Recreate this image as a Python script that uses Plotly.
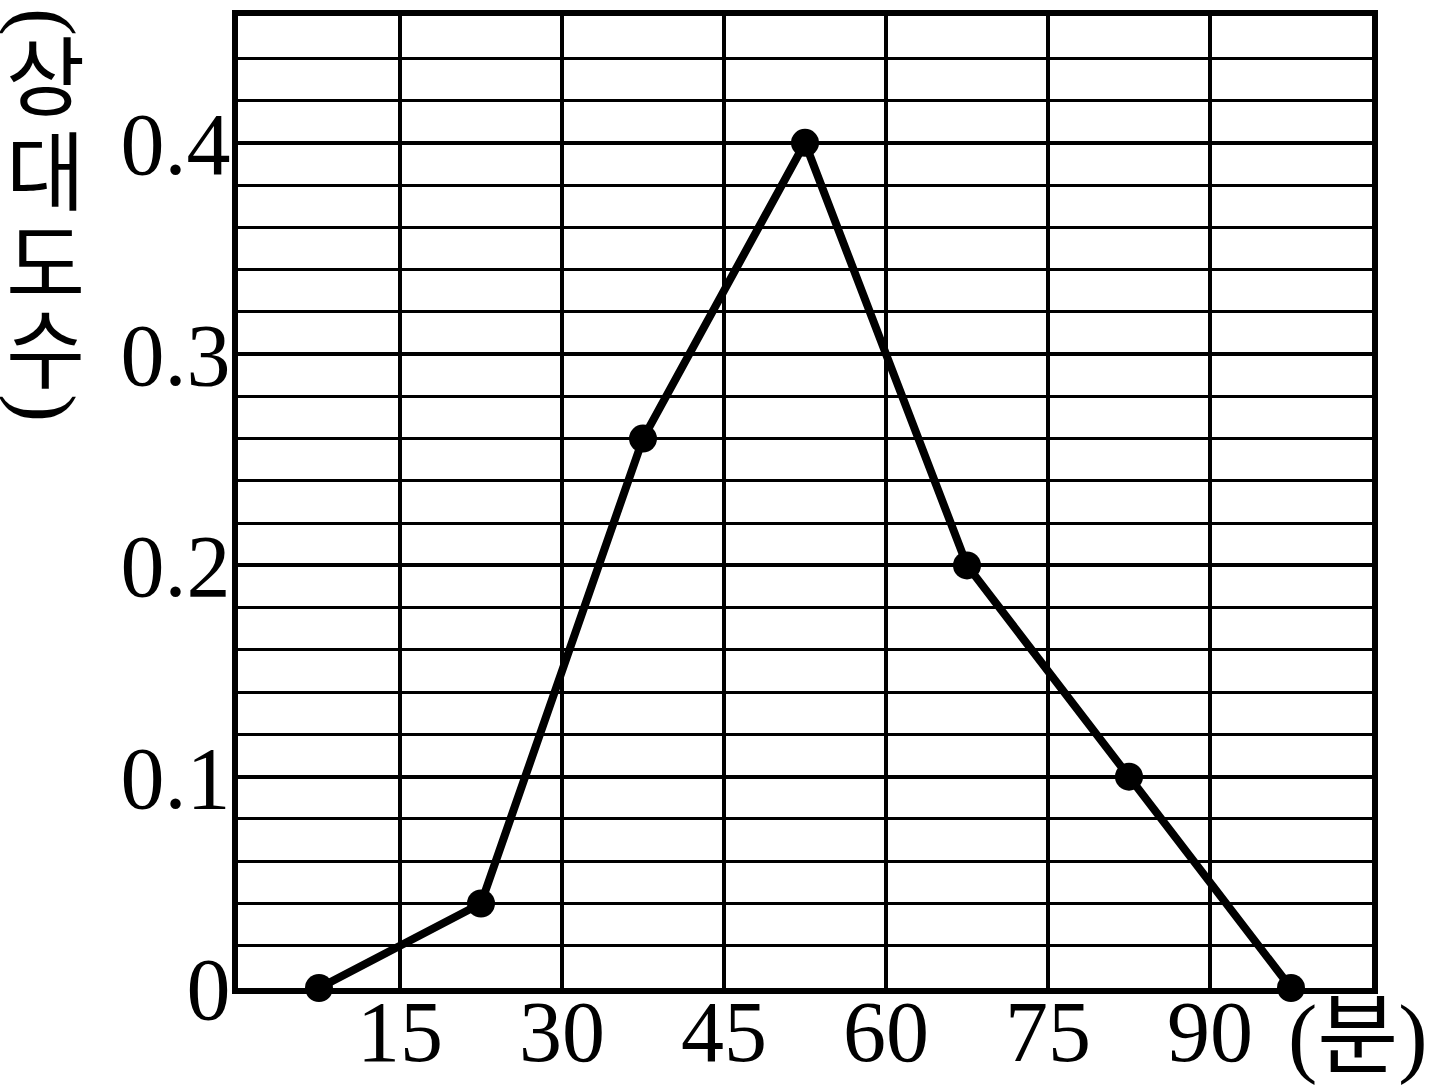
import plotly.graph_objects as go

# Data
class_mid = [7.5, 22.5, 37.5, 52.5, 67.5, 82.5, 97.5]   # minutes (class midpoints)
rel_freq = [0.0, 0.04, 0.26, 0.40, 0.20, 0.10, 0.0]
x_ticks = [15, 30, 45, 60, 75, 90]
y_ticks = [0, 0.1, 0.2, 0.3, 0.4]
y_tick_text = ["0", "0.1", "0.2", "0.3", "0.4"]
y_title_chars = ["(", "상", "대", "도", "수", ")"]
x_unit = "(분)"

W, H = 1443, 1091
L, R, T, B = 238, 71, 16, 103
pw, ph = W - L - R, H - T - B

def px_x(px):  # viewport pixel -> paper
    return (px - L) / pw

def px_y(py):
    return (H - B - py) / ph

serif = "Liberation Serif, 'Noto Sans CJK KR', serif"

fig = go.Figure()
fig.add_trace(go.Scatter(
    x=class_mid, y=rel_freq, mode="lines+markers",
    line=dict(color="black", width=8),
    marker=dict(color="black", size=28),
    cliponaxis=False, showlegend=False, hoverinfo="skip",
))

fig.update_xaxes(
    range=[0, 105], tickvals=x_ticks, showgrid=True, gridcolor="black", gridwidth=4,
    showline=True, linecolor="black", linewidth=6, mirror=True, zeroline=False,
    ticks="", ticklabelstandoff=-36, tickfont=dict(family=serif, size=86, color="black"),
    layer="below traces", fixedrange=True, automargin=False,
)
fig.update_yaxes(
    range=[0, 0.46], tickvals=y_ticks, ticktext=y_tick_text,
    showgrid=True, gridcolor="black", gridwidth=4,
    minor=dict(dtick=0.02, tick0=0, showgrid=True, gridcolor="black", gridwidth=2.5, ticks=""),
    showline=True, linecolor="black", linewidth=6, mirror=True, zeroline=False,
    ticks="", ticklabelstandoff=-16, tickfont=dict(family=serif, size=88, color="black"),
    layer="below traces", fixedrange=True, automargin=False,
)

annotations = []
y_centers = [22, 72, 166, 258, 344, 408]
for ch, yc in zip(y_title_chars, y_centers):
    is_paren = ch in "()"
    annotations.append(dict(
        text=ch, xref="paper", yref="paper", x=px_x(45), y=px_y(yc),
        xanchor="center", yanchor="middle", showarrow=False,
        textangle=90 if is_paren else 0,
        font=dict(family=serif if is_paren else "'Noto Sans CJK KR'",
                  size=84 if is_paren else 86, color="black"),
    ))
annotations.append(dict(
    text=x_unit, xref="paper", yref="paper", x=px_x(1286), y=px_y(1036),
    xanchor="left", yanchor="middle", showarrow=False,
    font=dict(family=serif, size=88, color="black"),
))

fig.update_layout(
    width=W, height=H, margin=dict(l=L, r=R, t=T, b=B, pad=0, autoexpand=False),
    paper_bgcolor="white", plot_bgcolor="white",
    annotations=annotations,
)

fig.write_html(
    "out.html",
    config={"displayModeBar": False},
    post_script="document.body.style.margin='0';document.body.style.overflow='hidden';",
)
